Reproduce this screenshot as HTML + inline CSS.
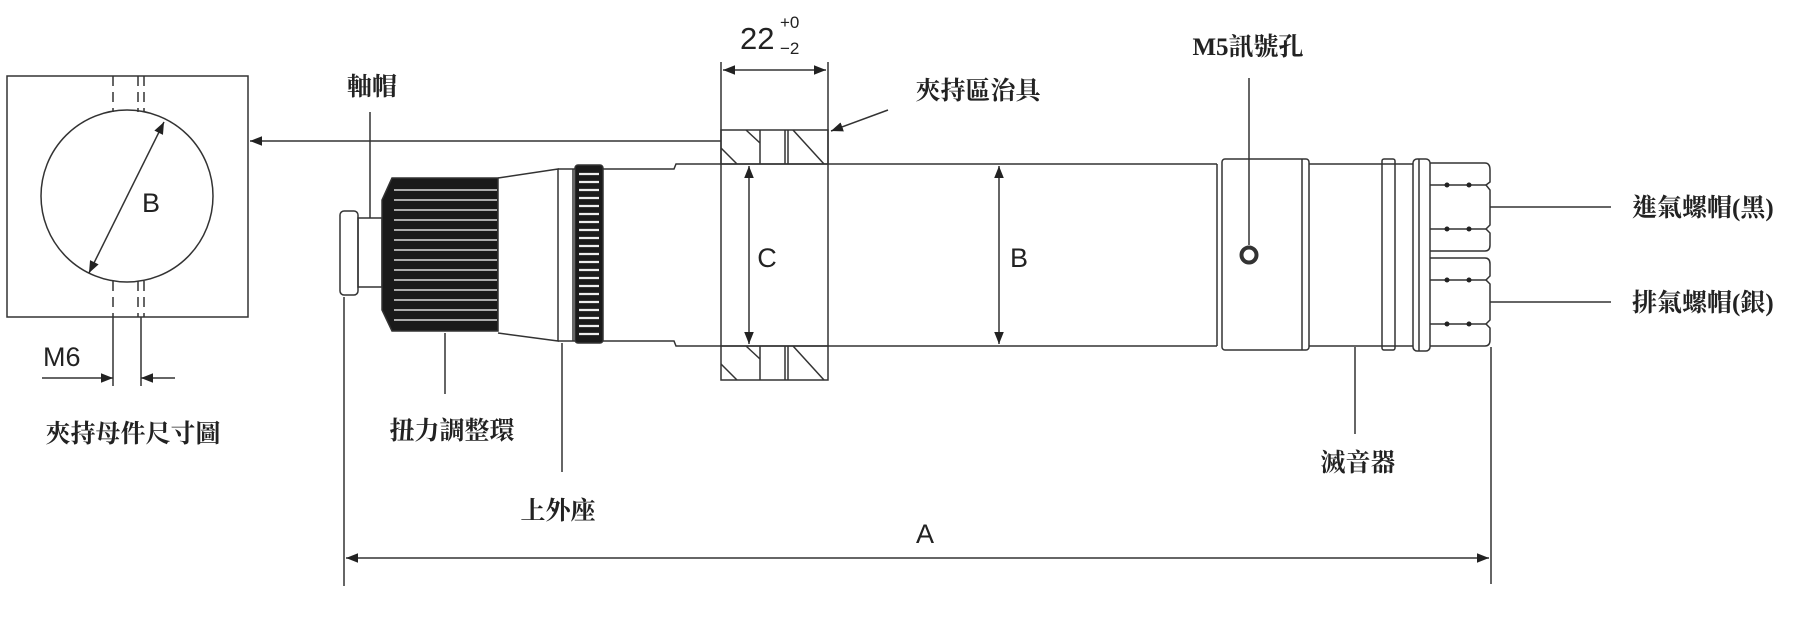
<!DOCTYPE html>
<html><head><meta charset="utf-8"><style>
html,body{margin:0;padding:0;background:#fff}
svg{display:block}
.cj{font-family:"Liberation Serif","Noto Serif CJK TC","Noto Serif CJK SC",serif;font-weight:bold;fill:#222}
.lt{font-family:"Liberation Sans","DejaVu Sans",sans-serif;fill:#222}
</style></head><body>
<svg width="1806" height="624" viewBox="0 0 1806 624" xmlns="http://www.w3.org/2000/svg">
<defs>
<marker id="ar" viewBox="0 0 10 10" refX="10" refY="5" markerWidth="12" markerHeight="12" markerUnits="userSpaceOnUse" orient="auto-start-reverse"><path d="M0,1 L10,5 L0,9 z" fill="#222"/></marker>
</defs>
<g stroke="#333" stroke-width="1.5" fill="none">
<!-- left box -->
<rect x="7" y="76" width="241" height="241"/>
<circle cx="127" cy="196" r="86"/>
<g stroke-dasharray="10,6">
<line x1="113" y1="76" x2="113" y2="112"/>
<line x1="138" y1="76" x2="138" y2="112"/>
<line x1="144" y1="76" x2="144" y2="112"/>
<line x1="113" y1="281" x2="113" y2="317"/>
<line x1="138" y1="281" x2="138" y2="317"/>
<line x1="144" y1="281" x2="144" y2="317"/>
</g>
<line x1="113" y1="317" x2="113" y2="386"/>
<line x1="141" y1="317" x2="141" y2="386"/>
<line x1="89" y1="273" x2="164" y2="122" marker-start="url(#ar)" marker-end="url(#ar)"/>
<line x1="42" y1="378" x2="113" y2="378" marker-end="url(#ar)"/>
<line x1="175" y1="378" x2="141" y2="378" marker-end="url(#ar)"/>
<!-- arrow to box -->
<line x1="721" y1="141" x2="250" y2="141" marker-end="url(#ar)"/>
<!-- cap leader -->
<line x1="370" y1="112" x2="370" y2="218"/>
<!-- cap -->
<rect x="340" y="211" width="18" height="84" rx="4"/>
<rect x="358" y="218" width="24" height="69"/>
<!-- knob -->
<path d="M392,178 L498,178 L498,331 L392,331 L382,310 L382,200 z" fill="#1a1a1a"/>
</g>
<g stroke="#ddd" stroke-width="1.6">
<line x1="394" y1="190" x2="497" y2="190"/><line x1="394" y1="200" x2="497" y2="200"/><line x1="394" y1="210" x2="497" y2="210"/><line x1="394" y1="220" x2="497" y2="220"/><line x1="394" y1="230" x2="497" y2="230"/><line x1="394" y1="240" x2="497" y2="240"/><line x1="394" y1="250" x2="497" y2="250"/><line x1="394" y1="260" x2="497" y2="260"/><line x1="394" y1="270" x2="497" y2="270"/><line x1="394" y1="280" x2="497" y2="280"/><line x1="394" y1="290" x2="497" y2="290"/><line x1="394" y1="300" x2="497" y2="300"/><line x1="394" y1="310" x2="497" y2="310"/><line x1="394" y1="320" x2="497" y2="320"/>
</g>
<g stroke="#333" stroke-width="1.5" fill="none">
<path d="M498,178 L558,169 L558,341 L498,333"/>
<line x1="573" y1="169" x2="573" y2="341"/>
<line x1="558" y1="169" x2="575" y2="169"/><line x1="558" y1="341" x2="575" y2="341"/>
<rect x="575" y="165" width="28" height="178" rx="3" fill="#1a1a1a"/>
</g>
<g stroke="#eee" stroke-width="2.2">
<line x1="579" y1="174" x2="599" y2="174"/><line x1="579" y1="182" x2="599" y2="182"/><line x1="579" y1="190" x2="599" y2="190"/><line x1="579" y1="198" x2="599" y2="198"/><line x1="579" y1="206" x2="599" y2="206"/><line x1="579" y1="214" x2="599" y2="214"/><line x1="579" y1="222" x2="599" y2="222"/><line x1="579" y1="230" x2="599" y2="230"/><line x1="579" y1="238" x2="599" y2="238"/><line x1="579" y1="246" x2="599" y2="246"/><line x1="579" y1="254" x2="599" y2="254"/><line x1="579" y1="262" x2="599" y2="262"/><line x1="579" y1="270" x2="599" y2="270"/><line x1="579" y1="278" x2="599" y2="278"/><line x1="579" y1="286" x2="599" y2="286"/><line x1="579" y1="294" x2="599" y2="294"/><line x1="579" y1="302" x2="599" y2="302"/><line x1="579" y1="310" x2="599" y2="310"/><line x1="579" y1="318" x2="599" y2="318"/><line x1="579" y1="326" x2="599" y2="326"/><line x1="579" y1="334" x2="599" y2="334"/>
</g>
<g stroke="#333" stroke-width="1.5" fill="none">
<!-- body -->
<path d="M603,169 L674,169 L676,164 L1217,164"/>
<path d="M603,341 L674,341 L676,346 L1217,346"/>
<line x1="1217" y1="164" x2="1217" y2="346"/>
<!-- jig -->
<rect x="721" y="130" width="107" height="34"/>
<rect x="721" y="346" width="107" height="34"/>
<line x1="760" y1="130" x2="760" y2="164"/><line x1="785" y1="130" x2="785" y2="164"/><line x1="788" y1="130" x2="788" y2="164"/>
<line x1="760" y1="346" x2="760" y2="380"/><line x1="785" y1="346" x2="785" y2="380"/><line x1="788" y1="346" x2="788" y2="380"/>
<line x1="746" y1="130" x2="760" y2="143"/><line x1="721" y1="148" x2="737" y2="164"/><line x1="793" y1="130" x2="824" y2="164"/>
<line x1="746" y1="346" x2="760" y2="359"/><line x1="721" y1="364" x2="737" y2="380"/><line x1="793" y1="346" x2="824" y2="380"/>
<line x1="721" y1="62" x2="721" y2="130"/><line x1="828" y1="62" x2="828" y2="346"/>
<line x1="721" y1="130" x2="721" y2="346"/>
<line x1="723" y1="70" x2="826" y2="70" marker-start="url(#ar)" marker-end="url(#ar)"/>
<line x1="888" y1="110" x2="831" y2="131" marker-end="url(#ar)"/>
<!-- C dim -->
<line x1="749" y1="166" x2="749" y2="344" marker-start="url(#ar)" marker-end="url(#ar)"/>
<!-- B dim -->
<line x1="999" y1="166" x2="999" y2="344" marker-start="url(#ar)" marker-end="url(#ar)"/>
<!-- leaders -->
<line x1="445" y1="333" x2="445" y2="394"/>
<line x1="562" y1="343" x2="562" y2="472"/>
<!-- A dim -->
<line x1="344" y1="297" x2="344" y2="586"/>
<line x1="1491" y1="347" x2="1491" y2="584"/>
<line x1="346" y1="558" x2="1489" y2="558" marker-start="url(#ar)" marker-end="url(#ar)"/>
<!-- collar -->
<rect x="1222" y="159" width="87" height="191" rx="3"/>
<line x1="1302" y1="159" x2="1302" y2="350"/>
<line x1="1249" y1="78" x2="1249" y2="245"/>
<circle cx="1249" cy="255" r="7.5" stroke-width="4"/>
<!-- muffler -->
<line x1="1309" y1="164" x2="1413" y2="164"/><line x1="1309" y1="346" x2="1413" y2="346"/>
<rect x="1382" y="159" width="13" height="191" rx="2"/>
<rect x="1413" y="159" width="17" height="192" rx="4"/>
<line x1="1419" y1="159" x2="1419" y2="351"/>
<line x1="1355" y1="347" x2="1355" y2="434"/>
<!-- nuts -->
<path d="M1430,163 L1485,163 Q1490,163 1490,170 L1490,182 L1486,185 L1490,190 L1490,225 L1486,229 L1490,233 L1490,245 Q1490,251 1485,251 L1430,251"/>
<path d="M1430,258 L1485,258 Q1490,258 1490,264 L1490,276 L1486,280 L1490,284 L1490,320 L1486,324 L1490,328 L1490,340 Q1490,346 1485,346 L1430,346"/>
<line x1="1430" y1="185" x2="1486" y2="185"/><line x1="1430" y1="229" x2="1486" y2="229"/>
<line x1="1430" y1="280" x2="1486" y2="280"/><line x1="1430" y1="324" x2="1486" y2="324"/>
<line x1="1490" y1="207" x2="1611" y2="207"/>
<line x1="1490" y1="302" x2="1611" y2="302"/>
</g>
<g fill="#222">
<circle cx="1447" cy="185" r="2.5"/><circle cx="1469" cy="185" r="2.5"/><circle cx="1447" cy="229" r="2.5"/><circle cx="1469" cy="229" r="2.5"/>
<circle cx="1447" cy="280" r="2.5"/><circle cx="1469" cy="280" r="2.5"/><circle cx="1447" cy="324" r="2.5"/><circle cx="1469" cy="324" r="2.5"/>
</g>
<!-- text -->
<g class="lt" font-size="27">
<text x="151" y="212" text-anchor="middle">B</text>
<text x="767" y="267" text-anchor="middle">C</text>
<text x="1019" y="267" text-anchor="middle">B</text>
<text x="925" y="543" text-anchor="middle">A</text>
<text x="43" y="366">M6</text>
<text x="740" y="49" font-size="31">22</text>
<text x="780" y="28" font-size="17">+0</text>
<text x="780" y="54" font-size="17">−2</text>
</g>
<g class="cj" font-size="25">
<text x="133" y="442" text-anchor="middle">夾持母件尺寸圖</text>
<text x="372" y="95" text-anchor="middle">軸帽</text>
<text x="978" y="99" text-anchor="middle">夾持區治具</text>
<text x="452" y="439" text-anchor="middle">扭力調整環</text>
<text x="558" y="519" text-anchor="middle">上外座</text>
<text x="1248" y="55" text-anchor="middle">M5訊號孔</text>
<text x="1358" y="471" text-anchor="middle">滅音器</text>
<text x="1632" y="216">進氣螺帽(黑)</text>
<text x="1632" y="311">排氣螺帽(銀)</text>
</g>
</svg>
</body></html>
